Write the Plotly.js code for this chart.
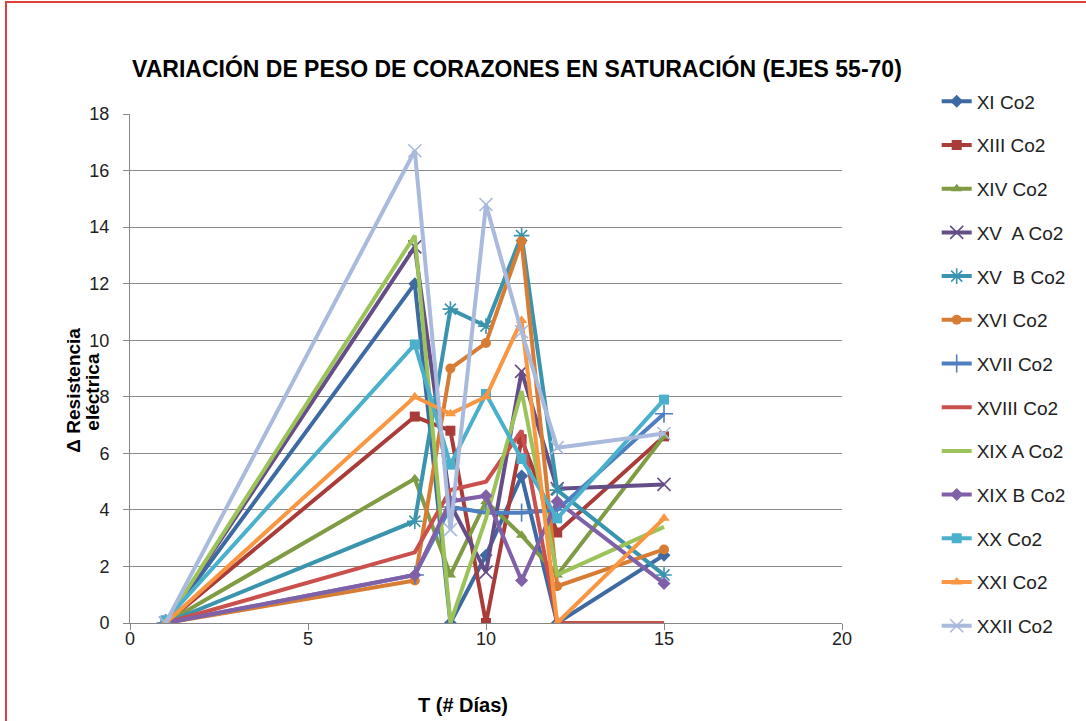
<!DOCTYPE html>
<html>
<head>
<meta charset="utf-8">
<script src="https://cdn.plot.ly/plotly-3.0.1.min.js"></script>
<style>
  html, body { margin: 0; padding: 0; background: #ffffff; }
  #wrap { position: relative; width: 1086px; height: 721px; overflow: hidden; }
  #chart { width: 1086px; height: 721px; }
  #frame { position: absolute; left: 5px; top: 1px; width: 1200px; height: 800px;
           border-left: 2px solid #e0403a; border-top: 2px solid #e0403a; pointer-events: none; }
</style>
</head>
<body>
<div id="wrap">
  <div id="chart"></div>
  <div id="frame"></div>
</div>
<script>
// ---- data ----
const days = [1, 8, 9, 10, 11, 12, 15];

const seriesNames = ["XI Co2", "XIII Co2", "XIV Co2", "XV  A Co2", "XV  B Co2", "XVI Co2",
  "XVII Co2", "XVIII Co2", "XIX A Co2", "XIX B Co2", "XX Co2", "XXI Co2", "XXII Co2"];

const xiCo2    = [0, 12.0, 0.0, 2.4, 5.2, 0.0, 2.4];
const xiiiCo2  = [0, 7.3, 6.8, 0.0, 6.5, 3.2, 6.6];
const xivCo2   = [0, 5.1, 1.7, 4.3, 3.1, 1.7, 6.6];
const xvACo2   = [0, 13.3, 4.2, 1.8, 8.9, 4.75, 4.9];
const xvBCo2   = [0, 3.6, 11.1, 10.5, 13.7, 4.7, 1.7];
const xviCo2   = [0, 1.5, 9.0, 9.9, 13.5, 1.3, 2.6];
const xviiCo2  = [0, 1.7, 4.1, 3.9, 3.9, 4.0, 7.4];
const xviiiCo2 = [0, 2.5, 4.7, 5.0, 6.8, 0.0, 0.0];
const xixACo2  = [0, 13.7, 0.0, 3.7, 8.2, 1.7, 3.4];
const xixBCo2  = [0, 1.7, 4.3, 4.5, 1.5, 4.3, 1.4];
const xxCo2    = [0.1, 9.85, 5.6, 8.1, 5.8, 3.7, 7.9];
const xxiCo2   = [0, 8.0, 7.4, 8.0, 10.7, 0.0, 3.7];
const xxiiCo2  = [0, 16.7, 3.3, 14.8, 10.3, 6.2, 6.7];

const seriesValues = [xiCo2, xiiiCo2, xivCo2, xvACo2, xvBCo2, xviCo2, xviiCo2,
  xviiiCo2, xixACo2, xixBCo2, xxCo2, xxiCo2, xxiiCo2];

const yTicks = [0, 2, 4, 6, 8, 10, 12, 14, 16, 18];
const xTicks = [0, 5, 10, 15, 20];

const chartTitle = "VARIACIÓN DE PESO DE CORAZONES EN SATURACIÓN (EJES 55-70)";
const xTitle = "T (# Días)";
const yTitleLines = ["Δ Resistencia", "eléctrica"];

// ---- styles ----
const colors = ["#3d6aa3", "#a93c39", "#7f9c45", "#654e88", "#3a94ad", "#d77c35",
  "#4f7fc0", "#c9504c", "#9bc35a", "#8061a8", "#4bb0cc", "#f89642", "#a9badc"];
const symbols = ["diamond", "square", "triangle-up", "x-thin-open", "asterisk-open", "circle",
  "cross-thin-open", null, null, "diamond", "square", "triangle-up", "x-thin-open"];

const traces = seriesNames.map((name, i) => {
  const sym = symbols[i];
  const t = {
    type: "scatter",
    x: days,
    y: seriesValues[i],
    name: name,
    legendgroup: "g" + i,
    line: { color: colors[i], width: 4 },
    mode: sym ? "lines+markers" : "lines"
  };
  if (sym) {
    const open = sym.indexOf("open") >= 0;
    t.marker = { symbol: sym, size: open ? 13 : 10, color: colors[i],
                 line: { color: colors[i], width: open ? 1.6 : 0 } };
  }
  return t;
});

const font = "Liberation Sans, Arial, sans-serif";

const layout = {
  width: 1086, height: 721,
  paper_bgcolor: "#ffffff", plot_bgcolor: "#ffffff",
  margin: { l: 130, r: 244, t: 114, b: 98 },
  showlegend: true,
  title: {
    text: "<b>" + chartTitle + "</b>",
    font: { family: font, size: 23, color: "#000000" },
    xref: "container", x: 0.476, xanchor: "center",
    yref: "container", y: 0.905, yanchor: "middle"
  },
  xaxis: {
    range: [0, 20], tickvals: xTicks, ticktext: xTicks.map(String),
    showgrid: false, zeroline: false, showline: true, linecolor: "#868686", linewidth: 1,
    ticks: "outside", ticklen: 6, tickcolor: "#868686",
    ticklabelstandoff: -7,
    tickfont: { family: font, size: 18, color: "#222" }
  },
  yaxis: {
    range: [0, 18], tickvals: yTicks, ticktext: yTicks.map(String),
    showgrid: true, gridcolor: "#8a8a8a", gridwidth: 1, zeroline: false,
    showline: true, linecolor: "#868686", linewidth: 1,
    ticks: "outside", ticklen: 6, tickcolor: "#868686",
    ticklabelstandoff: 10,
    tickfont: { family: font, size: 18, color: "#222" }
  },
  annotations: [
    { text: "<b>" + xTitle + "</b>", xref: "paper", yref: "paper", x: 0.468, y: -0.161,
      xanchor: "center", yanchor: "middle", showarrow: false,
      font: { family: font, size: 20, color: "#000" } },
    { text: "<b>" + yTitleLines[0] + "</b>", xref: "paper", yref: "paper", x: -0.079, y: 0.458,
      xanchor: "center", yanchor: "middle", showarrow: false, textangle: -90,
      font: { family: font, size: 19, color: "#000" } },
    { text: "<b>" + yTitleLines[1] + "</b>", xref: "paper", yref: "paper", x: -0.053, y: 0.455,
      xanchor: "center", yanchor: "middle", showarrow: false, textangle: -90,
      font: { family: font, size: 19, color: "#000" } }
  ],
  legend: {
    x: 1.133, xanchor: "left", y: 1.062, yanchor: "top",
    font: { family: font, size: 19, color: "#222" },
    tracegroupgap: 16, maxheight: 700, bgcolor: "rgba(0,0,0,0)"
  }
};

Plotly.newPlot("chart", traces, layout, { displayModeBar: false, staticPlot: true });
</script>
</body>
</html>
